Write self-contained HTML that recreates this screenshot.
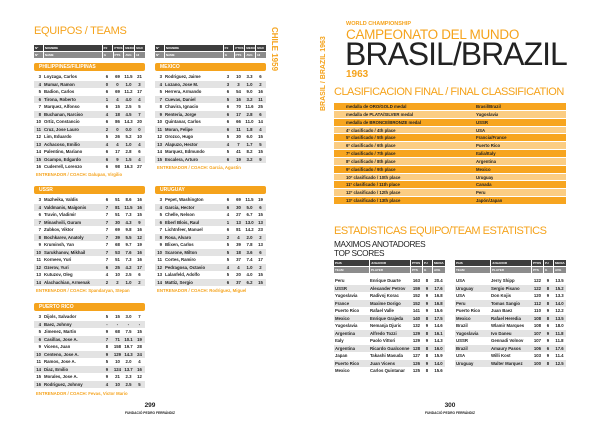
<!DOCTYPE html>
<html><head><meta charset="utf-8"><style>
*{margin:0;padding:0;box-sizing:border-box}
body{width:600px;height:424px;background:#fff;position:relative;overflow:hidden;font-family:"Liberation Sans",sans-serif}
.a{position:absolute}
.or{color:#f5a31c}
.tb{position:absolute;width:111px;font-size:4.3px;font-weight:bold;color:#222}
.hd{display:flex;gap:1px;height:6px;margin-bottom:1px}
.hd div{background:#3d3d3d;color:#fff;font-size:3px;line-height:6px;padding-left:1px}
.hd.g div{background:#8c8c8c}
.bar{background:#f5a31c;color:#fff;height:8px;line-height:8px;font-size:5px;font-weight:bold;padding-left:5px;border-radius:2px;width:111px;position:absolute}
.r{display:flex;height:7.5px;line-height:7.5px}
.r:nth-child(even){background:#e3e3e3}
.r span{display:block;white-space:nowrap;overflow:hidden}
.c1{width:9px;text-align:right;padding-right:2px}
.c2{width:59px;padding-left:1px}
.c3{width:10px;text-align:center}
.c4{width:11px;text-align:center}
.c5{width:11px;text-align:center}
.c6{width:11px;text-align:center}
.coach{position:absolute;font-size:4.3px;font-weight:bold;color:#f5a31c}
.cl{position:absolute;left:334px;top:103px;width:232px}
.cl .r{height:7.85px;line-height:7.85px;background:#f7a51f;font-size:4.3px;font-weight:bold;color:#222;border-bottom:1px solid #fff}
.cl .r:nth-child(even){background:#fbcd83}
.cl .r span:first-child{width:142px;padding-left:12px}
.st{position:absolute;width:111px;font-size:4.3px;font-weight:bold;color:#222}
.st .s1{width:36px;padding-left:1px}.st .s2{width:41px}.st .s3{width:11px;text-align:center}.st .s4{width:10px;text-align:center}.st .s5{width:13px;text-align:center}
.ft{position:absolute;text-align:center;width:100px;font-weight:bold;color:#222}
</style></head><body>

<!-- LEFT PAGE -->
<div class="a or" style="left:34px;top:25px;font-size:11px;letter-spacing:-0.3px">EQUIPOS / TEAMS</div>
<div class="a or" style="left:268px;top:27px;width:12px;height:45px;writing-mode:vertical-rl;font-size:8px;font-weight:bold;line-height:12px">CHILE 1959</div>

<div class="tb" style="left:34px;top:45px">
<div class="hd"><div style="width:9px">Nº</div><div style="width:59px">NOMBRE</div><div style="width:10px">PJ</div><div style="width:10px">PTOS</div><div style="width:10px">MEDIA</div><div style="width:10px">MAX</div></div>
<div class="hd g"><div style="width:9px">Nº</div><div style="width:59px">NAME</div><div style="width:10px">G</div><div style="width:10px">PTS</div><div style="width:10px">AVG</div><div style="width:10px">HI</div></div>
</div>
<div class="tb" style="left:155px;top:45px">
<div class="hd"><div style="width:9px">Nº</div><div style="width:59px">NOMBRE</div><div style="width:10px">PJ</div><div style="width:10px">PTOS</div><div style="width:10px">MEDIA</div><div style="width:10px">MAX</div></div>
<div class="hd g"><div style="width:9px">Nº</div><div style="width:59px">NAME</div><div style="width:10px">G</div><div style="width:10px">PTS</div><div style="width:10px">AVG</div><div style="width:10px">HI</div></div>
</div>

<div class="bar" style="left:34px;top:63px">PHILIPPINES/FILIPINAS</div>
<div class="tb" style="left:34px;top:73px">
<div class="r"><span class="c1">3</span><span class="c2">Loyzaga, Carlos</span><span class="c3">6</span><span class="c4">69</span><span class="c5">11.5</span><span class="c6">21</span></div>
<div class="r"><span class="c1">4</span><span class="c2">Mumar, Ramon</span><span class="c3">0</span><span class="c4">0</span><span class="c5">1.0</span><span class="c6">3</span></div>
<div class="r"><span class="c1">5</span><span class="c2">Badion, Carlos</span><span class="c3">6</span><span class="c4">69</span><span class="c5">11.2</span><span class="c6">17</span></div>
<div class="r"><span class="c1">6</span><span class="c2">Tirona, Roberto</span><span class="c3">1</span><span class="c4">4</span><span class="c5">4.0</span><span class="c6">4</span></div>
<div class="r"><span class="c1">7</span><span class="c2">Marquez, Alfonso</span><span class="c3">6</span><span class="c4">15</span><span class="c5">2.5</span><span class="c6">5</span></div>
<div class="r"><span class="c1">8</span><span class="c2">Buchanan, Narciso</span><span class="c3">4</span><span class="c4">18</span><span class="c5">4.5</span><span class="c6">7</span></div>
<div class="r"><span class="c1">10</span><span class="c2">Ortiz, Constancio</span><span class="c3">6</span><span class="c4">86</span><span class="c5">14.3</span><span class="c6">20</span></div>
<div class="r"><span class="c1">11</span><span class="c2">Cruz, Jose Lauro</span><span class="c3">2</span><span class="c4">0</span><span class="c5">0.0</span><span class="c6">0</span></div>
<div class="r"><span class="c1">12</span><span class="c2">Lim, Eduardo</span><span class="c3">5</span><span class="c4">26</span><span class="c5">5.2</span><span class="c6">10</span></div>
<div class="r"><span class="c1">13</span><span class="c2">Achacoso, Emilio</span><span class="c3">4</span><span class="c4">4</span><span class="c5">1.0</span><span class="c6">4</span></div>
<div class="r"><span class="c1">14</span><span class="c2">Palentino, Mariano</span><span class="c3">6</span><span class="c4">17</span><span class="c5">2.8</span><span class="c6">6</span></div>
<div class="r"><span class="c1">15</span><span class="c2">Ocampo, Edgardo</span><span class="c3">6</span><span class="c4">9</span><span class="c5">1.5</span><span class="c6">4</span></div>
<div class="r"><span class="c1">16</span><span class="c2">Cuderrell, Lorenzo</span><span class="c3">6</span><span class="c4">98</span><span class="c5">16.3</span><span class="c6">27</span></div>
</div>
<div class="coach" style="left:36px;top:172px">ENTRENADOR / COACH: Dalupan, Virgilio</div>

<div class="bar" style="left:155px;top:63px">MEXICO</div>
<div class="tb" style="left:155px;top:73px">
<div class="r"><span class="c1">3</span><span class="c2">Rodriguez, Jaime</span><span class="c3">3</span><span class="c4">10</span><span class="c5">3.3</span><span class="c6">6</span></div>
<div class="r"><span class="c1">4</span><span class="c2">Lozano, Jose M.</span><span class="c3">3</span><span class="c4">3</span><span class="c5">1.0</span><span class="c6">2</span></div>
<div class="r"><span class="c1">5</span><span class="c2">Herrera, Armando</span><span class="c3">6</span><span class="c4">54</span><span class="c5">9.0</span><span class="c6">16</span></div>
<div class="r"><span class="c1">7</span><span class="c2">Cuevas, Daniel</span><span class="c3">5</span><span class="c4">16</span><span class="c5">3.2</span><span class="c6">11</span></div>
<div class="r"><span class="c1">8</span><span class="c2">Chavira, Ignacio</span><span class="c3">6</span><span class="c4">70</span><span class="c5">11.6</span><span class="c6">25</span></div>
<div class="r"><span class="c1">9</span><span class="c2">Renteria, Jorge</span><span class="c3">6</span><span class="c4">17</span><span class="c5">2.8</span><span class="c6">6</span></div>
<div class="r"><span class="c1">10</span><span class="c2">Quintanar, Carlos</span><span class="c3">6</span><span class="c4">66</span><span class="c5">11.0</span><span class="c6">14</span></div>
<div class="r"><span class="c1">11</span><span class="c2">Moran, Felipe</span><span class="c3">6</span><span class="c4">11</span><span class="c5">1.8</span><span class="c6">4</span></div>
<div class="r"><span class="c1">12</span><span class="c2">Orozco, Hugo</span><span class="c3">5</span><span class="c4">30</span><span class="c5">6.0</span><span class="c6">15</span></div>
<div class="r"><span class="c1">13</span><span class="c2">Alapuzo, Hector</span><span class="c3">4</span><span class="c4">7</span><span class="c5">1.7</span><span class="c6">5</span></div>
<div class="r"><span class="c1">14</span><span class="c2">Marquez, Edmundo</span><span class="c3">5</span><span class="c4">41</span><span class="c5">8.2</span><span class="c6">15</span></div>
<div class="r"><span class="c1">15</span><span class="c2">Escalera, Arturo</span><span class="c3">6</span><span class="c4">19</span><span class="c5">3.2</span><span class="c6">9</span></div>
</div>
<div class="coach" style="left:157px;top:165px">ENTRENADOR / COACH: Garcia, Agustin</div>

<div class="bar" style="left:34px;top:186px">USSR</div>
<div class="tb" style="left:34px;top:196px">
<div class="r"><span class="c1">3</span><span class="c2">Mazheika, Valdis</span><span class="c3">6</span><span class="c4">51</span><span class="c5">8.6</span><span class="c6">16</span></div>
<div class="r"><span class="c1">4</span><span class="c2">Valdmanis, Maigonis</span><span class="c3">7</span><span class="c4">81</span><span class="c5">11.5</span><span class="c6">16</span></div>
<div class="r"><span class="c1">6</span><span class="c2">Travin, Vladimir</span><span class="c3">7</span><span class="c4">51</span><span class="c5">7.3</span><span class="c6">15</span></div>
<div class="r"><span class="c1">7</span><span class="c2">Minashvili, Guram</span><span class="c3">7</span><span class="c4">30</span><span class="c5">4.3</span><span class="c6">9</span></div>
<div class="r"><span class="c1">7</span><span class="c2">Zubkov, Viktor</span><span class="c3">7</span><span class="c4">69</span><span class="c5">9.8</span><span class="c6">16</span></div>
<div class="r"><span class="c1">8</span><span class="c2">Bochkarev, Anatoly</span><span class="c3">7</span><span class="c4">39</span><span class="c5">5.5</span><span class="c6">12</span></div>
<div class="r"><span class="c1">9</span><span class="c2">Kruminsh, Yan</span><span class="c3">7</span><span class="c4">68</span><span class="c5">9.7</span><span class="c6">19</span></div>
<div class="r"><span class="c1">10</span><span class="c2">Sarukhanov, Mikhail</span><span class="c3">7</span><span class="c4">53</span><span class="c5">7.6</span><span class="c6">16</span></div>
<div class="r"><span class="c1">11</span><span class="c2">Korneev, Yuri</span><span class="c3">7</span><span class="c4">51</span><span class="c5">7.3</span><span class="c6">16</span></div>
<div class="r"><span class="c1">12</span><span class="c2">Ozerov, Yuri</span><span class="c3">6</span><span class="c4">25</span><span class="c5">4.2</span><span class="c6">17</span></div>
<div class="r"><span class="c1">13</span><span class="c2">Kutuzov, Oleg</span><span class="c3">4</span><span class="c4">10</span><span class="c5">2.5</span><span class="c6">6</span></div>
<div class="r"><span class="c1">14</span><span class="c2">Alachachian, Armenak</span><span class="c3">2</span><span class="c4">2</span><span class="c5">1.0</span><span class="c6">2</span></div>
</div>
<div class="coach" style="left:36px;top:288px">ENTRENADOR / COACH: Spandaryan, Stepan</div>

<div class="bar" style="left:155px;top:186px">URUGUAY</div>
<div class="tb" style="left:155px;top:196px">
<div class="r"><span class="c1">3</span><span class="c2">Pepet, Washington</span><span class="c3">6</span><span class="c4">69</span><span class="c5">11.5</span><span class="c6">19</span></div>
<div class="r"><span class="c1">4</span><span class="c2">Garcia, Hector</span><span class="c3">6</span><span class="c4">30</span><span class="c5">5.0</span><span class="c6">6</span></div>
<div class="r"><span class="c1">5</span><span class="c2">Chelle, Nelson</span><span class="c3">4</span><span class="c4">27</span><span class="c5">6.7</span><span class="c6">15</span></div>
<div class="r"><span class="c1">6</span><span class="c2">Eberl Blois, Raul</span><span class="c3">1</span><span class="c4">13</span><span class="c5">13.0</span><span class="c6">13</span></div>
<div class="r"><span class="c1">7</span><span class="c2">Lichtnfeer, Manuel</span><span class="c3">6</span><span class="c4">81</span><span class="c5">14.2</span><span class="c6">23</span></div>
<div class="r"><span class="c1">8</span><span class="c2">Rosa, Alvaro</span><span class="c3">2</span><span class="c4">4</span><span class="c5">2.0</span><span class="c6">2</span></div>
<div class="r"><span class="c1">9</span><span class="c2">Blixen, Carlos</span><span class="c3">5</span><span class="c4">39</span><span class="c5">7.8</span><span class="c6">13</span></div>
<div class="r"><span class="c1">10</span><span class="c2">Scarone, Milton</span><span class="c3">5</span><span class="c4">18</span><span class="c5">3.6</span><span class="c6">6</span></div>
<div class="r"><span class="c1">11</span><span class="c2">Cortes, Ramiro</span><span class="c3">5</span><span class="c4">37</span><span class="c5">7.4</span><span class="c6">17</span></div>
<div class="r"><span class="c1">12</span><span class="c2">Pedragosa, Octavio</span><span class="c3">4</span><span class="c4">4</span><span class="c5">1.0</span><span class="c6">2</span></div>
<div class="r"><span class="c1">13</span><span class="c2">Lalanfeld, Adolfo</span><span class="c3">5</span><span class="c4">20</span><span class="c5">4.0</span><span class="c6">15</span></div>
<div class="r"><span class="c1">14</span><span class="c2">Mattiz, Sergio</span><span class="c3">6</span><span class="c4">37</span><span class="c5">6.2</span><span class="c6">15</span></div>
</div>
<div class="coach" style="left:157px;top:288px">ENTRENADOR / COACH: Rodriguez, Miguel</div>

<div class="bar" style="left:34px;top:303px">PUERTO RICO</div>
<div class="tb" style="left:34px;top:313px">
<div class="r"><span class="c1">3</span><span class="c2">Dijols, Salvador</span><span class="c3">5</span><span class="c4">15</span><span class="c5">3.0</span><span class="c6">7</span></div>
<div class="r"><span class="c1">4</span><span class="c2">Baez, Johnny</span><span class="c3">-</span><span class="c4">-</span><span class="c5">-</span><span class="c6">-</span></div>
<div class="r"><span class="c1">5</span><span class="c2">Jimenez, Martin</span><span class="c3">9</span><span class="c4">68</span><span class="c5">7.5</span><span class="c6">15</span></div>
<div class="r"><span class="c1">6</span><span class="c2">Casillas, Jose A.</span><span class="c3">7</span><span class="c4">71</span><span class="c5">10.1</span><span class="c6">19</span></div>
<div class="r"><span class="c1">9</span><span class="c2">Vicens, Juan</span><span class="c3">8</span><span class="c4">158</span><span class="c5">19.7</span><span class="c6">28</span></div>
<div class="r"><span class="c1">10</span><span class="c2">Centeno, Jose A.</span><span class="c3">9</span><span class="c4">129</span><span class="c5">14.3</span><span class="c6">24</span></div>
<div class="r"><span class="c1">11</span><span class="c2">Ramos, Jose A.</span><span class="c3">5</span><span class="c4">10</span><span class="c5">2.0</span><span class="c6">4</span></div>
<div class="r"><span class="c1">14</span><span class="c2">Diaz, Emilio</span><span class="c3">9</span><span class="c4">124</span><span class="c5">13.7</span><span class="c6">16</span></div>
<div class="r"><span class="c1">15</span><span class="c2">Morales, Jose A.</span><span class="c3">9</span><span class="c4">21</span><span class="c5">2.3</span><span class="c6">12</span></div>
<div class="r"><span class="c1">16</span><span class="c2">Rodriguez, Johnny</span><span class="c3">4</span><span class="c4">10</span><span class="c5">2.5</span><span class="c6">5</span></div>
</div>
<div class="coach" style="left:36px;top:391px">ENTRENADOR / COACH: Fevas, Victor Mario</div>

<div class="ft" style="left:100px;top:402px;font-size:6.5px">299</div>
<div class="ft" style="left:100px;top:411px;font-size:3.3px">FUNDACIÓ PEDRO FERRÁNDIZ</div>

<!-- RIGHT PAGE -->
<div class="a or" style="left:318px;top:26px;width:12px;height:85px;writing-mode:vertical-rl;transform:rotate(180deg);font-size:7px;font-weight:bold;line-height:12px;white-space:nowrap">BRASIL / BRAZIL 1963</div>
<div class="a or" style="left:346px;top:21px;font-size:5.5px;font-weight:bold">WORLD CHAMPIONSHIP</div>
<div class="a or" style="left:346px;top:28px;font-size:13.5px;letter-spacing:-0.3px;line-height:14px">CAMPEONATO DEL MUNDO</div>
<div class="a" style="left:345px;top:38px;font-size:32px;color:#222;letter-spacing:-1px;line-height:32px">BRASIL/BRAZIL</div>
<div class="a or" style="left:346px;top:69px;font-size:10px;font-weight:bold">1963</div>
<div class="a or" style="left:334px;top:86px;font-size:11px;letter-spacing:-0.5px">CLASIFICACION FINAL / FINAL CLASSIFICATION</div>

<div class="cl">
<div class="r"><span>medalla de ORO/GOLD medal</span><span>Brasil/Brazil</span></div>
<div class="r"><span>medalla de PLATA/SILVER medal</span><span>Yugoslavia</span></div>
<div class="r"><span>medalla de BRONCE/BRONZE medal</span><span>USSR</span></div>
<div class="r"><span>4º clasificado / 4th place</span><span>USA</span></div>
<div class="r"><span>5º clasificado / 5th place</span><span>Francia/France</span></div>
<div class="r"><span>6º clasificado / 6th place</span><span>Puerto Rico</span></div>
<div class="r"><span>7º clasificado / 7th place</span><span>Italia/Italy</span></div>
<div class="r"><span>8º clasificado / 8th place</span><span>Argentina</span></div>
<div class="r"><span>9º clasificado / 9th place</span><span>Mexico</span></div>
<div class="r"><span>10º clasificado / 10th place</span><span>Uruguay</span></div>
<div class="r"><span>11º clasificado / 11th place</span><span>Canada</span></div>
<div class="r"><span>12º clasificado / 12th place</span><span>Peru</span></div>
<div class="r"><span>13º clasificado / 13th place</span><span>Japón/Japan</span></div>
</div>

<div class="a or" style="left:334px;top:225px;font-size:11px;letter-spacing:-0.5px">ESTADISTICAS EQUIPO/TEAM ESTATISTICS</div>
<div class="a" style="left:334px;top:240px;font-size:8.3px;color:#222;letter-spacing:-0.4px;line-height:9px">MAXIMOS ANOTADORES<br>TOP SCORES</div>

<div class="st" style="left:334px;top:260px">
<div class="hd"><div style="width:35px">PAIS</div><div style="width:40px">JUGADOR</div><div style="width:11px">PTOS</div><div style="width:9px">PJ</div><div style="width:12px">MEDIA</div></div>
<div class="hd g"><div style="width:35px">TEAM</div><div style="width:40px">PLAYER</div><div style="width:11px">PTS</div><div style="width:9px">G</div><div style="width:12px">AVG</div></div>
</div>
<div class="st" style="left:455px;top:260px">
<div class="hd"><div style="width:35px">PAIS</div><div style="width:40px">JUGADOR</div><div style="width:11px">PTOS</div><div style="width:9px">PJ</div><div style="width:12px">MEDIA</div></div>
<div class="hd g"><div style="width:35px">TEAM</div><div style="width:40px">PLAYER</div><div style="width:11px">PTS</div><div style="width:9px">G</div><div style="width:12px">AVG</div></div>
</div>

<div class="st" style="left:334px;top:277px">
<div class="r"><span class="s1">Peru</span><span class="s2">Enrique Duarte</span><span class="s3">163</span><span class="s4">8</span><span class="s5">20.4</span></div>
<div class="r"><span class="s1">USSR</span><span class="s2">Alexander Petrov</span><span class="s3">159</span><span class="s4">9</span><span class="s5">17.6</span></div>
<div class="r"><span class="s1">Yugoslavia</span><span class="s2">Radivoj Korac</span><span class="s3">152</span><span class="s4">9</span><span class="s5">16.8</span></div>
<div class="r"><span class="s1">France</span><span class="s2">Maxime Dorigo</span><span class="s3">152</span><span class="s4">9</span><span class="s5">16.8</span></div>
<div class="r"><span class="s1">Puerto Rico</span><span class="s2">Rafael Valle</span><span class="s3">141</span><span class="s4">9</span><span class="s5">15.6</span></div>
<div class="r"><span class="s1">Mexico</span><span class="s2">Enrique Grajeda</span><span class="s3">140</span><span class="s4">8</span><span class="s5">17.5</span></div>
<div class="r"><span class="s1">Yugoslavia</span><span class="s2">Nemanja Djuric</span><span class="s3">132</span><span class="s4">9</span><span class="s5">14.6</span></div>
<div class="r"><span class="s1">Argentina</span><span class="s2">Alfredo Tozzi</span><span class="s3">129</span><span class="s4">8</span><span class="s5">16.1</span></div>
<div class="r"><span class="s1">Italy</span><span class="s2">Paolo Vittori</span><span class="s3">129</span><span class="s4">9</span><span class="s5">14.3</span></div>
<div class="r"><span class="s1">Argentina</span><span class="s2">Ricardo Gualconne</span><span class="s3">128</span><span class="s4">8</span><span class="s5">16.0</span></div>
<div class="r"><span class="s1">Japan</span><span class="s2">Takashi Masuda</span><span class="s3">127</span><span class="s4">8</span><span class="s5">15.9</span></div>
<div class="r"><span class="s1">Puerto Rico</span><span class="s2">Juan Vicens</span><span class="s3">126</span><span class="s4">9</span><span class="s5">14.0</span></div>
<div class="r"><span class="s1">Mexico</span><span class="s2">Carlos Quintanar</span><span class="s3">125</span><span class="s4">8</span><span class="s5">15.6</span></div>
</div>
<div class="st" style="left:455px;top:277px">
<div class="r"><span class="s1">USA</span><span class="s2">Jerry Shipp</span><span class="s3">122</span><span class="s4">9</span><span class="s5">13.5</span></div>
<div class="r"><span class="s1">Uruguay</span><span class="s2">Sergio Pisano</span><span class="s3">122</span><span class="s4">8</span><span class="s5">15.2</span></div>
<div class="r"><span class="s1">USA</span><span class="s2">Don Kojis</span><span class="s3">120</span><span class="s4">9</span><span class="s5">13.3</span></div>
<div class="r"><span class="s1">Peru</span><span class="s2">Tomas Sangio</span><span class="s3">112</span><span class="s4">8</span><span class="s5">14.0</span></div>
<div class="r"><span class="s1">Puerto Rico</span><span class="s2">Juan Baez</span><span class="s3">110</span><span class="s4">9</span><span class="s5">12.2</span></div>
<div class="r"><span class="s1">Mexico</span><span class="s2">Rafael Heredia</span><span class="s3">108</span><span class="s4">8</span><span class="s5">13.5</span></div>
<div class="r"><span class="s1">Brazil</span><span class="s2">Wlamir Marques</span><span class="s3">108</span><span class="s4">6</span><span class="s5">18.0</span></div>
<div class="r"><span class="s1">Yugoslavia</span><span class="s2">Ivo Daneu</span><span class="s3">107</span><span class="s4">9</span><span class="s5">11.8</span></div>
<div class="r"><span class="s1">USSR</span><span class="s2">Gennadi Volnov</span><span class="s3">107</span><span class="s4">9</span><span class="s5">11.8</span></div>
<div class="r"><span class="s1">Brazil</span><span class="s2">Amaury Pasos</span><span class="s3">106</span><span class="s4">6</span><span class="s5">17.6</span></div>
<div class="r"><span class="s1">USA</span><span class="s2">Willi Kost</span><span class="s3">103</span><span class="s4">9</span><span class="s5">11.4</span></div>
<div class="r"><span class="s1">Uruguay</span><span class="s2">Walter Marquez</span><span class="s3">100</span><span class="s4">8</span><span class="s5">12.5</span></div>
</div>

<div class="ft" style="left:400px;top:402px;font-size:6.5px">300</div>
<div class="ft" style="left:400px;top:411px;font-size:3.3px">FUNDACIÓ PEDRO FERRÁNDIZ</div>
</body></html>
